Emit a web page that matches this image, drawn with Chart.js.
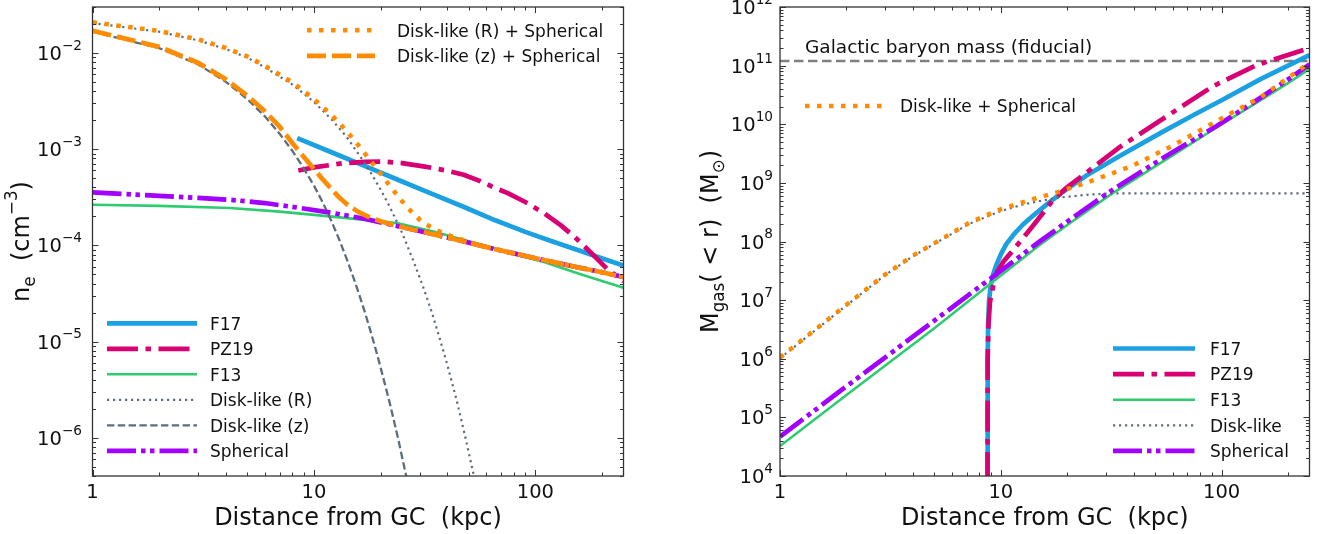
<!DOCTYPE html>
<html><head><meta charset="utf-8">
<script src="https://cdn.jsdelivr.net/npm/chart.js@4.4.1/dist/chart.umd.min.js"></script>
<style>
html,body{margin:0;padding:0;background:#fff;}
#wrap{position:relative;width:1325px;height:534px;overflow:hidden;}
canvas{position:absolute;top:0;}
#cL{left:0;} #cR{left:662px;}
</style></head><body>
<div id="wrap"><canvas id="cL" width="662" height="534"></canvas><canvas id="cR" width="663" height="534"></canvas></div>
<script>
// ---------- tick labels ----------
const xTickValues = [1, 10, 100];
const xTickLabels = ['1', '10', '100'];
const leftYTickExps = [-6, -5, -4, -3, -2];
const rightYTickExps = [4, 5, 6, 7, 8, 9, 10, 11, 12];

// ---------- left panel: electron density n_e (cm^-3) vs r (kpc) ----------
const rF17 = [8.4, 12, 17.9, 25, 33.5, 48.2, 65.9, 90, 116, 160, 215, 250];
const neF17 = [1.30e-3, 9.27e-4, 6.34e-4, 4.61e-4, 3.49e-4, 2.47e-4, 1.82e-4, 1.38e-4, 1.12e-4, 8.71e-5, 6.92e-5, 6.17e-5];

const rPZ19 = [8.5, 10, 13.6, 17, 20.6, 25, 31.2, 39, 47.4, 56, 65.9, 75, 90, 110, 130, 150, 170, 190, 210, 230, 250];
const nePZ19 = [6.0e-4, 6.46e-4, 7.14e-4, 7.36e-4, 7.43e-4, 7.16e-4, 6.61e-4, 6.03e-4, 5.41e-4, 4.68e-4, 3.94e-4, 3.49e-4, 2.82e-4, 2.14e-4, 1.62e-4, 1.23e-4, 9.33e-5, 7.24e-5, 5.75e-5, 4.9e-5, 4.22e-5];

const rF13 = [1, 2, 4.18, 7, 11.8, 16, 23.7, 35, 60.4, 80, 111, 160, 250];
const neF13 = [2.64e-4, 2.57e-4, 2.44e-4, 2.24e-4, 2.0e-4, 1.86e-4, 1.70e-4, 1.38e-4, 9.77e-5, 8.13e-5, 6.61e-5, 5.01e-5, 3.63e-5];

const rDiskR = [1, 2, 3, 4, 5, 6, 8, 10, 12, 14, 16, 18, 20, 22, 25, 28, 31, 34, 37, 40, 44, 48, 52, 56];
const neDiskR = [0.0204, 0.0166, 0.0135, 0.01096, 8.91e-3, 7.08e-3, 4.68e-3, 3.09e-3, 2.04e-3, 1.35e-3, 8.71e-4, 5.75e-4, 3.80e-4, 2.51e-4, 1.35e-4, 7.08e-5, 3.80e-5, 2.04e-5, 1.07e-5, 5.75e-6, 2.51e-6, 1.07e-6, 4.68e-7, 2.04e-7];

const rDiskZ = [1, 2, 3, 4, 5, 6, 7, 8, 9, 10, 11, 12, 13, 14, 15, 16, 17, 18, 19, 20, 22, 24, 26, 27];
const neDiskZ = [0.0166, 0.01122, 7.59e-3, 5.01e-3, 3.31e-3, 2.19e-3, 1.445e-3, 9.55e-4, 6.31e-4, 4.17e-4, 2.75e-4, 1.78e-4, 1.15e-4, 7.41e-5, 4.79e-5, 3.09e-5, 2.0e-5, 1.29e-5, 8.32e-6, 5.37e-6, 2.29e-6, 9.77e-7, 4.17e-7, 2.75e-7];

const rSph = [1, 2, 3, 4.18, 6, 8.37, 12, 16.7, 23.7, 32, 44.2, 65.9, 100, 148.6, 200, 250];
const neSph = [3.55e-4, 3.27e-4, 3.11e-4, 2.97e-4, 2.75e-4, 2.47e-4, 2.18e-4, 1.90e-4, 1.59e-4, 1.36e-4, 1.14e-4, 9.1e-5, 7.35e-5, 6.03e-5, 5.25e-5, 4.68e-5];

const rDiskRSph = [1, 2, 3, 4, 5, 6, 8, 10, 12, 14, 16, 18, 20, 22, 25, 28, 31, 35, 40, 50, 65.9, 100, 148.6, 200, 250];
const neDiskRSph = [0.0208, 0.0169, 0.0138, 0.01126, 9.2e-3, 7.36e-3, 4.93e-3, 3.32e-3, 2.26e-3, 1.555e-3, 1.07e-3, 7.6e-4, 5.55e-4, 4.16e-4, 2.87e-4, 2.14e-4, 1.73e-4, 1.47e-4, 1.29e-4, 1.08e-4, 9.1e-5, 7.35e-5, 6.03e-5, 5.25e-5, 4.68e-5];

const rDiskZSph = [1, 2, 3, 4, 5, 6, 7, 8, 9, 10, 11, 12, 13, 14, 16, 18, 20, 23.7, 32, 44.2, 65.9, 100, 148.6, 200, 250];
const neDiskZSph = [0.0170, 0.01155, 7.9e-3, 5.31e-3, 3.6e-3, 2.47e-3, 1.71e-3, 1.15e-3, 8.3e-4, 6.2e-4, 4.8e-4, 3.85e-4, 3.15e-4, 2.7e-4, 2.2e-4, 1.93e-4, 1.78e-4, 1.59e-4, 1.36e-4, 1.14e-4, 9.1e-5, 7.35e-5, 6.03e-5, 5.25e-5, 4.68e-5];

// ---------- right panel: enclosed gas mass (Msun) vs r (kpc) ----------
const rMF17 = [8.7, 8.72, 8.76, 8.85, 9.0, 9.2, 9.5, 10, 10.6, 11.5, 12.6, 13.9, 16, 19, 24.3, 35, 54, 75, 100, 150, 250];
const mF17 = [1e3, 1.0e6, 4.0e6, 1.0e7, 1.78e7, 2.63e7, 3.8e7, 6.03e7, 9.12e7, 1.35e8, 1.95e8, 2.69e8, 4.17e8, 6.92e8, 1.32e9, 2.95e9, 7.41e9, 1.45e10, 2.57e10, 5.89e10, 1.51e11];

const rMPZ19 = [8.7, 8.72, 8.8, 8.93, 9.25, 9.57, 10.3, 11.4, 12.5, 13.9, 17.1, 20, 23.4, 34.3, 56.6, 91.5, 142, 250];
const mPZ19 = [1e3, 1.0e6, 4.0e6, 9.3e6, 1.8e7, 2.9e7, 4.6e7, 7.2e7, 1.1e8, 1.8e8, 4.9e8, 8.5e8, 1.32e9, 4.0e9, 1.38e10, 4.47e10, 1.0e11, 2.0e11];

const rMF13 = [1, 2, 5, 10, 15, 20, 32, 60, 100, 143, 203, 250];
const mF13 = [3.24e4, 2.4e5, 3.31e6, 2.63e7, 8.71e7, 1.91e8, 6.61e8, 2.95e9, 1.0e10, 2.29e10, 5.25e10, 8.71e10];

const rMDisk = [1, 2, 3, 4, 5.5, 7.2, 10, 12.6, 15, 18.4, 25, 32, 40, 250];
const mDisk = [1.02e6, 8.13e6, 2.69e7, 5.62e7, 1.12e8, 2.0e8, 3.31e8, 4.27e8, 4.9e8, 5.62e8, 6.31e8, 6.61e8, 6.61e8, 6.61e8];

const rMSph = [1, 2, 5, 10, 15, 20, 32, 54, 95, 143, 203, 250];
const mSph = [4.68e4, 3.39e5, 4.47e6, 3.16e7, 1.0e8, 2.19e8, 7.59e8, 2.63e9, 9.33e9, 2.51e10, 6.03e10, 1.05e11];

const rMDiskSph = [1, 2, 3, 4, 5.5, 7.2, 10, 13.9, 18.4, 24.3, 39.4, 59.7, 100, 150, 250];
const mDiskSph = [1.05e6, 8.32e6, 2.75e7, 5.75e7, 1.15e8, 2.09e8, 3.55e8, 5.25e8, 7.08e8, 1.0e9, 1.95e9, 4.27e9, 1.26e10, 2.88e10, 1.12e11];

const rBaryon = [1, 250];
const mBaryon = [1.2e11, 1.2e11];

// ---------- styling ----------
const FONT = '"DejaVu Sans", sans-serif';
const C = {f17: '#1ba1e2', pz19: '#d80073', f13: '#2ecc71', disk: '#5d6d7e', sph: '#a200ff', orange: '#ff8c00', baryon: '#808080'};
const ST = {
  f17:   {borderColor: C.f17, borderWidth: 4.7, borderDash: []},
  pz19:  {borderColor: C.pz19, borderWidth: 4.7, borderDash: [31, 7.5, 5.5, 7.5]},
  f13:   {borderColor: C.f13, borderWidth: 2.6, borderDash: []},
  diskR: {borderColor: C.disk, borderWidth: 2.2, borderDash: [2.2, 3.8]},
  diskZ: {borderColor: C.disk, borderWidth: 2.3, borderDash: [7.4, 3.4]},
  sph:   {borderColor: C.sph, borderWidth: 4.7, borderDash: [29, 5, 4.5, 4.5, 4.5, 5]},
  oDot:  {borderColor: C.orange, borderWidth: 4.5, borderDash: [4.5, 7.5]},
  oDash: {borderColor: C.orange, borderWidth: 4.7, borderDash: [19, 6]},
  bary:  {borderColor: C.baryon, borderWidth: 2.3, borderDash: [9.5, 4.5]}
};

function ds(label, xs, ys, style, order) {
  return Object.assign({
    label, order,
    data: xs.map((x, i) => ({x, y: ys[i]})),
    pointRadius: 0, pointHoverRadius: 0, tension: 0, fill: false,
    borderCapStyle: 'butt', borderJoinStyle: 'round', clip: 0
  }, style);
}

function segFont(size, k) { return (k ? size * 0.7 : size).toFixed(2) + 'px ' + FONT; }
function richWidth(ctx, segs, size) {
  let w = 0;
  for (const s of segs) { ctx.font = segFont(size, s.k); w += ctx.measureText(s.t).width; }
  return w;
}
function drawRich(ctx, segs, x, y, size, align) {
  const w = richWidth(ctx, segs, size);
  let cx = align === 'right' ? x - w : (align === 'center' ? x - w / 2 : x);
  ctx.textAlign = 'left'; ctx.textBaseline = 'alphabetic';
  for (const s of segs) {
    ctx.font = segFont(size, s.k);
    const dy = s.k === 'sup' ? -0.52 * size : (s.k === 'sub' ? 0.24 * size : 0);
    ctx.fillText(s.t, cx, y + dy);
    cx += ctx.measureText(s.t).width;
  }
}

function decadeTicks(min, max) {
  const major = [], minor = [];
  const d0 = Math.floor(Math.log10(min)) - 1, d1 = Math.ceil(Math.log10(max));
  for (let d = d0; d <= d1; d++) {
    for (let m = 1; m <= 9; m++) {
      const v = m * Math.pow(10, d);
      if (v < min * 0.9999 || v > max * 1.0001) continue;
      (m === 1 ? major : minor).push(v);
    }
  }
  return {major, minor};
}

function decorPlugin(cfg) {
  return {
    id: 'decor',
    afterDraw(chart) {
      const ctx = chart.ctx, a = chart.chartArea, xs = chart.scales.x, ys = chart.scales.y;
      ctx.save();
      // ticks (inward, all four sides)
      ctx.strokeStyle = '#333'; ctx.lineWidth = 1; ctx.setLineDash([]);
      const tx = decadeTicks(xs.min, xs.max), ty = decadeTicks(ys.min, ys.max);
      const tick = (v, len, horiz) => {
        if (horiz) {
          const p = Math.round(xs.getPixelForValue(v)) + 0.5;
          ctx.beginPath(); ctx.moveTo(p, a.bottom); ctx.lineTo(p, a.bottom - len);
          ctx.moveTo(p, a.top); ctx.lineTo(p, a.top + len); ctx.stroke();
        } else {
          const p = Math.round(ys.getPixelForValue(v)) + 0.5;
          ctx.beginPath(); ctx.moveTo(a.left, p); ctx.lineTo(a.left + len, p);
          ctx.moveTo(a.right, p); ctx.lineTo(a.right - len, p); ctx.stroke();
        }
      };
      tx.major.forEach(v => tick(v, 6, true)); tx.minor.forEach(v => tick(v, 3.5, true));
      ty.major.forEach(v => tick(v, 6, false)); ty.minor.forEach(v => tick(v, 3.5, false));
      // frame
      ctx.lineWidth = 1.3; ctx.strokeStyle = '#333';
      ctx.strokeRect(a.left, a.top, a.right - a.left, a.bottom - a.top);
      // tick labels
      ctx.fillStyle = '#111';
      const TS = 19.5;
      xTickValues.forEach((v, i) => {
        drawRich(ctx, [{t: xTickLabels[i]}], xs.getPixelForValue(v), a.bottom + 21.5, TS, 'center');
      });
      cfg.yExps.forEach(e => {
        const lab = e < 0 ? '\u2212' + Math.abs(e) : String(e);
        drawRich(ctx, [{t: '10'}, {t: lab, k: 'sup'}], a.left - cfg.yLabelGap, ys.getPixelForValue(Math.pow(10, e)) + 7.1, TS, 'right');
      });
      // axis titles
      const TT = 24;
      drawRich(ctx, [{t: 'Distance from GC  (kpc)'}], (a.left + a.right) / 2, 525, TT, 'center');
      ctx.save();
      ctx.translate(cfg.yTitleX, (a.top + a.bottom) / 2);
      ctx.rotate(-Math.PI / 2);
      drawRich(ctx, cfg.yTitle, 0, 0, TT, 'center');
      ctx.restore();
      // legends
      const LS = 17;
      const dsets = chart.data.datasets;
      cfg.legends.forEach(L => {
        L.items.forEach((idx, j) => {
          const d = dsets[idx];
          const y = L.y0 + j * L.dy;
          ctx.save();
          ctx.strokeStyle = d.borderColor; ctx.lineWidth = d.borderWidth;
          ctx.setLineDash(d.borderDash || []); ctx.lineCap = 'butt';
          ctx.beginPath(); ctx.moveTo(L.x1, y); ctx.lineTo(L.x2, y); ctx.stroke();
          ctx.restore();
          ctx.fillStyle = '#111';
          drawRich(ctx, [{t: d.label}], L.tx, y + 6.2, LS, 'left');
        });
      });
      if (cfg.note) {
        ctx.fillStyle = '#111';
        drawRich(ctx, [{t: cfg.note.text}], cfg.note.x, cfg.note.y, cfg.note.size, 'left');
      }
      ctx.restore();
    }
  };
}

function makeChart(id, datasets, cfg) {
  return new Chart(document.getElementById(id), {
    type: 'line',
    data: {datasets},
    options: {
      responsive: false, animation: false, devicePixelRatio: 1, events: [],
      layout: {padding: cfg.padding},
      plugins: {legend: {display: false}, tooltip: {enabled: false}, title: {display: false}},
      scales: {
        x: {type: 'logarithmic', min: 1, max: 250, display: false, bounds: 'data'},
        y: {type: 'logarithmic', min: cfg.ymin, max: cfg.ymax, display: false, bounds: 'data'}
      }
    },
    plugins: [decorPlugin(cfg)]
  });
}

// left chart
makeChart('cL', [
  ds('F17', rF17, neF17, ST.f17, 8),
  ds('PZ19', rPZ19, nePZ19, ST.pz19, 7),
  ds('F13', rF13, neF13, ST.f13, 6),
  ds('Disk-like (R)', rDiskR, neDiskR, ST.diskR, 5),
  ds('Disk-like (z)', rDiskZ, neDiskZ, ST.diskZ, 4),
  ds('Spherical', rSph, neSph, ST.sph, 3),
  ds('Disk-like (R) + Spherical', rDiskRSph, neDiskRSph, ST.oDot, 2),
  ds('Disk-like (z) + Spherical', rDiskZSph, neDiskZSph, ST.oDash, 1)
], {
  padding: {left: 92.5, right: 38.5, top: 7, bottom: 58},
  ymin: 4e-7, ymax: 0.03, yExps: leftYTickExps, yLabelGap: 10.5, yTitleX: 29,
  yTitle: [{t: 'n'}, {t: 'e', k: 'sub'}, {t: '  (cm'}, {t: '\u22123', k: 'sup'}, {t: ')'}],
  legends: [
    {items: [0, 1, 2, 3, 4, 5], x1: 107, x2: 197, tx: 210, y0: 323.3, dy: 25.5},
    {items: [6, 7], x1: 307, x2: 375, tx: 397, y0: 30.3, dy: 25.5}
  ]
});

// right chart (canvas offset 662 px)
makeChart('cR', [
  ds('F17', rMF17, mF17, ST.f17, 8),
  ds('PZ19', rMPZ19, mPZ19, ST.pz19, 7),
  ds('F13', rMF13, mF13, ST.f13, 6),
  ds('Disk-like', rMDisk, mDisk, ST.diskR, 5),
  ds('Spherical', rMSph, mSph, ST.sph, 3),
  ds('Disk-like + Spherical', rMDiskSph, mDiskSph, ST.oDot, 2),
  ds('Galactic baryon mass (fiducial)', rBaryon, mBaryon, ST.bary, 9)
], {
  padding: {left: 118, right: 15.5, top: 7, bottom: 58},
  ymin: 1e4, ymax: 1e12, yExps: rightYTickExps, yLabelGap: 7, yTitleX: 56,
  yTitle: [{t: 'M'}, {t: 'gas', k: 'sub'}, {t: '( < r)  (M'}, {t: '\u2299', k: 'sub'}, {t: ')'}],
  legends: [
    {items: [0, 1, 2, 3, 4], x1: 451, x2: 533, tx: 548, y0: 348.5, dy: 25.6},
    {items: [5], x1: 143, x2: 223, tx: 238, y0: 106, dy: 25.5}
  ],
  note: {text: 'Galactic baryon mass (fiducial)', x: 143, y: 52.5, size: 18.5}
});
</script>
</body></html>
